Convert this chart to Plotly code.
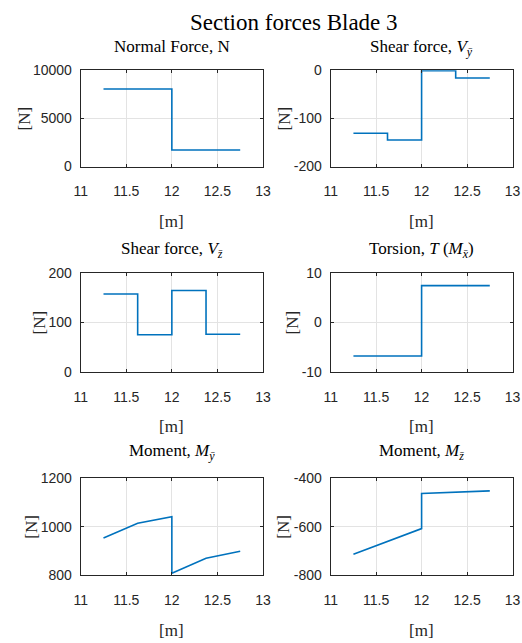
import plotly.graph_objects as go

# ---------------- data ----------------
x_nodes = [11.25, 11.625, 12.0, 12.375, 12.75]

normal_start = [8050, 8050, 1720, 1720]
normal_end = [8050, 8050, 1720, 1720]

vy_start = [-131, -145, -1, -16]
vy_end = [-131, -145, -1, -16]

vz_start = [158, 75, 165, 76]
vz_end = [158, 75, 165, 76]

torsion_start = [-6.8, -6.8, 7.5, 7.5]
torsion_end = [-6.8, -6.8, 7.5, 7.5]

my_start = [953, 1014, 807, 869]
my_end = [1014, 1041, 869, 898]

mz_start = [-714, -662, -463, -459]
mz_end = [-662, -608, -459, -452]

x_ticks = [11, 11.5, 12, 12.5, 13]
y_ticks = {
    1: [0, 5000, 10000],
    2: [-200, -100, 0],
    3: [0, 100, 200],
    4: [-10, 0, 10],
    5: [800, 1000, 1200],
    6: [-800, -600, -400],
}

titles = [
    "Normal Force, N",
    "Shear force, <i>V</i><sub><i>y\u0304</i></sub>",
    "Shear force, <i>V</i><sub><i>z\u0304</i></sub>",
    "Torsion, <i>T</i> (<i>M</i><sub><i>x\u0304</i></sub>)",
    "Moment, <i>M</i><sub><i>y\u0304</i></sub>",
    "Moment, <i>M</i><sub><i>z\u0304</i></sub>",
]
main_title = "Section forces Blade 3"
x_label = "[m]"
y_label = "[N]"

series = [
    (normal_start, normal_end),
    (vy_start, vy_end),
    (vz_start, vz_end),
    (torsion_start, torsion_end),
    (my_start, my_end),
    (mz_start, mz_end),
]

# ---------------- layout geometry (pixels) ----------------
W, H = 522, 643
col_px = [(80.7, 263.0), (330.7, 512.5)]
row_px = [(70.3, 166.5), (273.3, 371.7), (478.3, 575.0)]
title_cap_top = [41.5, 242.5, 445.0]
ylabel_x = [(24, 284), (39, 292), (32, 284)]

serif = "Liberation Serif, Times New Roman, serif"
sans = "Liberation Sans, Arial, sans-serif"
axis_col = "#262626"

fig = go.Figure()
annotations = []
layout = {}

for i, (ys, ye) in enumerate(series):
    k = i + 1
    r, c = divmod(i, 2)
    xs_line, ys_line = [], []
    for e in range(len(ys)):
        xs_line += [x_nodes[e], x_nodes[e + 1]]
        ys_line += [ys[e], ye[e]]
    xa = "x" if k == 1 else f"x{k}"
    ya = "y" if k == 1 else f"y{k}"
    fig.add_trace(go.Scatter(x=xs_line, y=ys_line, mode="lines",
                             line=dict(color="#0072BD", width=1.6),
                             xaxis=xa, yaxis=ya, showlegend=False,
                             hoverinfo="skip"))
    x0, x1 = col_px[c]
    y0, y1 = row_px[r]
    xd = [x0 / W, x1 / W]
    yd = [1 - y1 / H, 1 - y0 / H]
    yt = y_ticks[k]
    common = dict(showline=True, linecolor=axis_col, linewidth=1, mirror="allticks",
                  ticks="inside", ticklen=3, tickcolor=axis_col, tickwidth=1,
                  showgrid=True, gridcolor="#e3e3e3", gridwidth=1, zeroline=False,
                  automargin=False,
                  tickfont=dict(family=sans, size=14, color=axis_col))
    layout["xaxis" if k == 1 else f"xaxis{k}"] = dict(
        domain=xd, range=[x_ticks[0], x_ticks[-1]], tickvals=x_ticks,
        ticktext=[("%g" % v) for v in x_ticks], anchor=ya, ticklabelstandoff=12,
        **common)
    layout["yaxis" if k == 1 else f"yaxis{k}"] = dict(
        domain=yd, range=[yt[0], yt[-1]], tickvals=yt,
        ticktext=[("%g" % v) for v in yt], anchor=xa, ticklabelstandoff=5,
        **common)
    cx = (x0 + x1) / 2 / W
    annotations.append(dict(text=titles[i], x=cx, y=1 - (title_cap_top[r] - 6) / H,
                            xref="paper", yref="paper", xanchor="center",
                            yanchor="top", showarrow=False,
                            font=dict(family=serif, size=17, color="black")))
    annotations.append(dict(text=x_label, x=cx, y=1 - (y1 + 55) / H,
                            xref="paper", yref="paper", xanchor="center",
                            yanchor="middle", showarrow=False,
                            font=dict(family=serif, size=17, color=axis_col)))
    annotations.append(dict(text=y_label, x=ylabel_x[r][c] / W,
                            y=1 - (y0 + y1) / 2 / H,
                            xref="paper", yref="paper", xanchor="center",
                            yanchor="middle", showarrow=False, textangle=-90,
                            font=dict(family=serif, size=17, color=axis_col)))

annotations.append(dict(text=main_title, x=294 / W, y=1 - 8 / H,
                        xref="paper", yref="paper", xanchor="center",
                        yanchor="top", showarrow=False,
                        font=dict(family=serif, size=23, color="black")))

fig.update_layout(width=W, height=H, margin=dict(l=0, r=0, t=0, b=0, pad=0),
                  paper_bgcolor="white", plot_bgcolor="white",
                  annotations=annotations, **layout)

fig.write_html("out.html", config={"displayModeBar": False},
               post_script="document.body.style.margin='0';"
                           "document.body.style.overflow='hidden';")
